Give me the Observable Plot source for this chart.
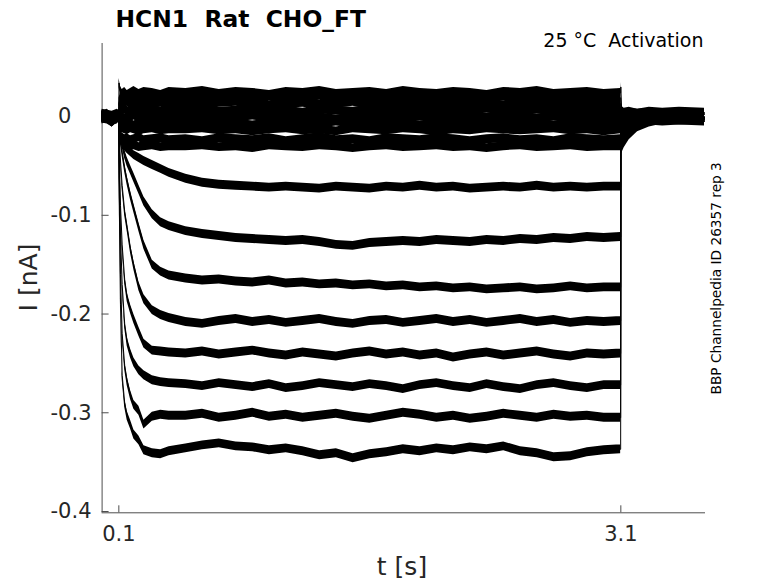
<!DOCTYPE html>
<html><head><meta charset="utf-8">
<script src="https://cdn.jsdelivr.net/npm/d3@7"></script>
<script src="https://cdn.jsdelivr.net/npm/@observablehq/plot@0.6"></script>
<style>body{margin:0;background:#fff}</style>
</head><body><div id="chart"></div>
<script>
// time grid (s)
const timeS = [0, 0.03, 0.06, 0.09, 0.1,
  0.101, 0.11, 0.12, 0.135, 0.15, 0.17, 0.19, 0.22, 0.25, 0.3, 0.35, 0.4,
  0.5, 0.6, 0.7, 0.8, 0.9, 1.0, 1.1, 1.2, 1.3, 1.4, 1.5, 1.6, 1.7,
  1.8, 1.9, 2.0, 2.1, 2.2, 2.3, 2.4, 2.5, 2.6, 2.7, 2.8, 2.9, 3.0,
  3.099,
  3.1, 3.105, 3.12, 3.15, 3.2, 3.27, 3.35, 3.45, 3.6];

// current (nA) of each sweep
const sweep01 = [0.003, 0.002, 0.001, 0.003, 0.002,
  0.034, 0.026, 0.023, 0.025, 0.022, 0.024, 0.026, 0.023, 0.025, 0.024, 0.022, 0.025,
  0.024, 0.026, 0.023, 0.025, 0.024, 0.022, 0.025, 0.024, 0.026, 0.023, 0.024, 0.025, 0.023,
  0.026, 0.024, 0.023, 0.025, 0.024, 0.022, 0.025, 0.024, 0.026, 0.023, 0.024, 0.025, 0.023,
  0.024,
  0.030, 0.006, 0.004, 0.005, 0.003, 0.005, 0.004, 0.005, 0.004];
const sweep02 = [0.001, 0.003, -0.001, 0.002, 0.001,
  0.014, 0.020, 0.018, 0.019, 0.021, 0.018, 0.019, 0.020, 0.017, 0.019, 0.020, 0.018,
  0.019, 0.018, 0.020, 0.019, 0.017, 0.020, 0.018, 0.019, 0.021, 0.018, 0.019, 0.017, 0.020,
  0.019, 0.018, 0.020, 0.019, 0.017, 0.019, 0.020, 0.018, 0.019, 0.020, 0.018, 0.019, 0.020,
  0.019,
  0.005, 0.004, 0.003, 0.004, 0.003, 0.004, 0.003, 0.004, 0.003];
const sweep03 = [-0.001, 0.001, -0.003, 0.000, 0.001,
  0.008, 0.014, 0.012, 0.013, 0.015, 0.012, 0.014, 0.013, 0.011, 0.013, 0.014, 0.012,
  0.013, 0.012, 0.014, 0.015, 0.013, 0.011, 0.013, 0.014, 0.012, 0.013, 0.015, 0.012, 0.013,
  0.011, 0.014, 0.013, 0.012, 0.014, 0.013, 0.011, 0.013, 0.015, 0.012, 0.013, 0.014, 0.012,
  0.013,
  0.003, 0.002, 0.002, 0.003, 0.002, 0.002, 0.001, 0.002, 0.002];
const sweep04 = [0.000, -0.001, -0.004, -0.001, 0.000,
  0.002, 0.006, 0.005, 0.007, 0.006, 0.004, 0.007, 0.006, 0.005, 0.007, 0.005, 0.006,
  0.006, 0.007, 0.005, 0.006, 0.008, 0.005, 0.006, 0.004, 0.007, 0.006, 0.005, 0.007, 0.006,
  0.004, 0.006, 0.007, 0.005, 0.006, 0.008, 0.006, 0.005, 0.007, 0.006, 0.005, 0.006, 0.007,
  0.006,
  0.001, 0.001, 0.000, 0.001, 0.001, 0.000, 0.000, 0.001, 0.000];
const sweep05 = [-0.002, 0.000, -0.005, -0.002, -0.001,
  -0.003, 0.000, -0.001, -0.002, 0.000, -0.001, 0.001, -0.001, -0.002, 0.000, -0.001, -0.002,
  -0.001, 0.000, -0.002, -0.001, 0.001, -0.001, -0.002, 0.000, -0.001, -0.003, -0.001, 0.000, -0.002,
  -0.001, 0.000, -0.001, -0.002, 0.000, -0.001, 0.001, -0.001, -0.002, 0.000, -0.001, -0.002, -0.001,
  -0.001,
  -0.002, -0.001, -0.002, -0.001, -0.002, -0.001, -0.002, -0.001, -0.001];
const sweep06 = [-0.001, -0.002, -0.006, 0.000, -0.002,
  -0.005, -0.006, -0.007, -0.008, -0.006, -0.007, -0.009, -0.007, -0.006, -0.008, -0.007, -0.006,
  -0.007, -0.008, -0.006, -0.007, -0.009, -0.007, -0.006, -0.008, -0.007, -0.005, -0.007, -0.008, -0.006,
  -0.007, -0.009, -0.007, -0.006, -0.008, -0.007, -0.006, -0.008, -0.007, -0.009, -0.007, -0.006, -0.007,
  -0.007,
  -0.004, -0.003, -0.003, -0.002, -0.003, -0.002, -0.003, -0.002, -0.003];
const sweep07 = [-0.003, -0.001, -0.004, -0.003, -0.001,
  -0.007, -0.011, -0.012, -0.013, -0.014, -0.012, -0.013, -0.015, -0.013, -0.012, -0.014, -0.013,
  -0.013, -0.012, -0.014, -0.013, -0.015, -0.013, -0.012, -0.014, -0.013, -0.015, -0.012, -0.013, -0.014,
  -0.012, -0.013, -0.015, -0.013, -0.014, -0.012, -0.013, -0.014, -0.013, -0.012, -0.014, -0.013, -0.015,
  -0.013,
  -0.006, -0.005, -0.004, -0.004, -0.003, -0.004, -0.003, -0.004, -0.003];
const sweep08 = [0.002, 0.000, -0.002, 0.001, 0.000,
  -0.010, -0.018, -0.021, -0.023, -0.022, -0.024, -0.023, -0.021, -0.024, -0.023, -0.022, -0.024,
  -0.023, -0.025, -0.022, -0.023, -0.024, -0.022, -0.025, -0.023, -0.021, -0.024, -0.023, -0.025, -0.022,
  -0.023, -0.024, -0.022, -0.023, -0.025, -0.023, -0.022, -0.024, -0.023, -0.025, -0.022, -0.023, -0.024,
  -0.023,
  -0.008, -0.006, -0.005, -0.004, -0.004, -0.003, -0.004, -0.003, -0.004];
const sweep09 = [-0.002, -0.003, -0.006, -0.002, -0.001,
  -0.012, -0.021, -0.026, -0.028, -0.029, -0.030, -0.029, -0.031, -0.030, -0.029, -0.031, -0.030,
  -0.030, -0.029, -0.031, -0.030, -0.032, -0.029, -0.030, -0.031, -0.029, -0.030, -0.032, -0.030, -0.029,
  -0.031, -0.030, -0.029, -0.031, -0.030, -0.032, -0.030, -0.029, -0.031, -0.030, -0.029, -0.031, -0.030,
  -0.030,
  -0.010, -0.008, -0.006, -0.005, -0.004, -0.004, -0.005, -0.004, -0.005];
const sweep10 = [0.000, 0.001, -0.003, -0.001, 0.000,
  -0.010, -0.020, -0.025, -0.030, -0.033, -0.036, -0.039, -0.042, -0.045, -0.049, -0.053, -0.057,
  -0.063, -0.067, -0.069, -0.070, -0.071, -0.072, -0.071, -0.072, -0.073, -0.071, -0.072, -0.073, -0.071,
  -0.072, -0.070, -0.072, -0.071, -0.073, -0.072, -0.071, -0.072, -0.070, -0.072, -0.071, -0.072, -0.071,
  -0.071,
  -0.012, -0.010, -0.008, -0.006, -0.004, -0.003, -0.002, -0.002, -0.002];
const sweep11 = [-0.001, -0.002, -0.005, 0.001, -0.001,
  -0.008, -0.018, -0.027, -0.038, -0.046, -0.054, -0.062, -0.074, -0.086, -0.099, -0.107, -0.111,
  -0.116, -0.119, -0.121, -0.123, -0.124, -0.125, -0.126, -0.125, -0.127, -0.130, -0.131, -0.128, -0.127,
  -0.126, -0.127, -0.125, -0.126, -0.127, -0.125, -0.126, -0.124, -0.125, -0.123, -0.124, -0.122, -0.123,
  -0.122,
  -0.017, -0.015, -0.012, -0.008, -0.005, -0.003, -0.002, -0.001, -0.002];
const sweep12 = [0.001, -0.001, -0.002, 0.000, 0.001,
  -0.012, -0.024, -0.036, -0.052, -0.065, -0.080, -0.093, -0.112, -0.130, -0.150, -0.157, -0.161,
  -0.164, -0.166, -0.165, -0.167, -0.168, -0.166, -0.169, -0.168, -0.170, -0.169, -0.171, -0.170, -0.172,
  -0.171, -0.173, -0.172, -0.174, -0.173, -0.175, -0.174, -0.173, -0.175, -0.174, -0.172, -0.174, -0.173,
  -0.173,
  -0.022, -0.019, -0.015, -0.010, -0.006, -0.003, -0.002, -0.001, -0.001];
const sweep13 = [-0.002, 0.000, -0.004, -0.002, 0.000,
  -0.018, -0.045, -0.070, -0.096, -0.112, -0.134, -0.151, -0.172, -0.185, -0.196, -0.201, -0.204,
  -0.208, -0.210, -0.207, -0.205, -0.208, -0.206, -0.209, -0.207, -0.205, -0.208, -0.210, -0.207, -0.206,
  -0.209, -0.207, -0.205, -0.208, -0.206, -0.209, -0.207, -0.205, -0.208, -0.206, -0.209, -0.207, -0.208,
  -0.207,
  -0.026, -0.023, -0.018, -0.012, -0.007, -0.004, -0.002, -0.002, -0.001];
const sweep14 = [0.000, -0.002, -0.006, -0.001, -0.002,
  -0.030, -0.090, -0.130, -0.165, -0.183, -0.195, -0.205, -0.218, -0.230, -0.237, -0.238, -0.239,
  -0.240, -0.238, -0.241, -0.239, -0.237, -0.240, -0.242, -0.239, -0.241, -0.243, -0.240, -0.238, -0.241,
  -0.239, -0.242, -0.240, -0.244, -0.241, -0.239, -0.242, -0.240, -0.238, -0.241, -0.243, -0.240, -0.241,
  -0.240,
  -0.029, -0.026, -0.021, -0.014, -0.008, -0.004, -0.002, -0.001, -0.002];
const sweep15 = [0.002, 0.001, -0.001, 0.002, 0.000,
  -0.040, -0.120, -0.170, -0.210, -0.228, -0.240, -0.249, -0.257, -0.262, -0.267, -0.269, -0.270,
  -0.271, -0.273, -0.270, -0.272, -0.274, -0.271, -0.275, -0.273, -0.270, -0.272, -0.274, -0.271, -0.273,
  -0.276, -0.272, -0.270, -0.273, -0.275, -0.271, -0.274, -0.276, -0.272, -0.270, -0.273, -0.275, -0.272,
  -0.272,
  -0.032, -0.029, -0.023, -0.016, -0.009, -0.005, -0.002, -0.002, -0.001];
const sweep16 = [-0.001, 0.000, -0.003, -0.001, -0.001,
  -0.050, -0.160, -0.220, -0.252, -0.268, -0.282, -0.292, -0.298, -0.312, -0.304, -0.302, -0.303,
  -0.303, -0.301, -0.305, -0.303, -0.300, -0.304, -0.302, -0.305, -0.303, -0.301, -0.304, -0.306, -0.303,
  -0.300, -0.302, -0.305, -0.303, -0.306, -0.304, -0.301, -0.303, -0.305, -0.302, -0.304, -0.303, -0.305,
  -0.305,
  -0.034, -0.031, -0.025, -0.017, -0.010, -0.005, -0.003, -0.001, -0.002];
const sweep17 = [0.001, -0.001, -0.004, 0.000, 0.000,
  -0.060, -0.190, -0.262, -0.290, -0.303, -0.312, -0.322, -0.328, -0.338, -0.341, -0.342, -0.339,
  -0.336, -0.333, -0.331, -0.334, -0.335, -0.338, -0.336, -0.339, -0.343, -0.341, -0.346, -0.342, -0.340,
  -0.337, -0.339, -0.336, -0.338, -0.335, -0.337, -0.334, -0.339, -0.341, -0.345, -0.344, -0.340, -0.338,
  -0.337,
  -0.036, -0.033, -0.027, -0.019, -0.011, -0.006, -0.003, -0.002, -0.001];

const sweeps = [sweep01, sweep02, sweep03, sweep04, sweep05, sweep06, sweep07, sweep08, sweep09,
  sweep10, sweep11, sweep12, sweep13, sweep14, sweep15, sweep16, sweep17];

const xTicks = [0.1, 3.1];
const yTicks = [0, -0.1, -0.2, -0.3, -0.4];
const xDomain = [0, 3.606];
const yDomain = [-0.4013, 0.074];
const noiseHalf = 0.0045; // half height of the recording noise band (nA)

const titleText = "HCN1  Rat  CHO_FT";
const conditionText = "25 \u00B0C  Activation";
const sourceText = "BBP Channelpedia ID 26357 rep 3";
const xLabel = "t [s]";
const yLabel = "I [nA]";

sweeps.forEach((s, i) => { if (s.length !== timeS.length) throw new Error("sweep " + (i + 1) + " has " + s.length); });
const rows = sweeps.flatMap((s, k) => s.map((v, j) => ({sweep: k, t: timeS[j], I: v})));

const W = 778, H = 583, mL = 101.6, mR = 73, mT = 43, mB = 70.7;
const axisColor = "#4d4d4d";
const plot = Plot.plot({
  width: W, height: H,
  marginLeft: mL, marginRight: mR, marginTop: mT, marginBottom: mB,
  x: {domain: xDomain},
  y: {domain: yDomain},
  style: {fontFamily: "DejaVu Sans", fontSize: "21px", color: "#262626", background: "#fff"},
  marks: [
    Plot.ruleX([xDomain[0]], {stroke: axisColor, strokeWidth: 1}),
    Plot.ruleY([yDomain[0]], {stroke: axisColor, strokeWidth: 1}),
    Plot.tickY(yTicks, {y: d => d, stroke: axisColor, insetRight: W - mL - mR - 7}),
    Plot.tickX(xTicks, {x: d => d, stroke: axisColor, insetTop: H - mT - mB - 7}),
    Plot.axisX({ticks: xTicks, tickSize: 0, tickPadding: 13, label: null, fontSize: 21,
      tickFormat: d => d.toFixed(1)}),
    Plot.axisY({ticks: yTicks, tickSize: 0, tickPadding: 10.6, label: null, fontSize: 21,
      tickFormat: d => d === 0 ? "0\u2008\u2007" : d.toFixed(1)}),
    Plot.areaY(rows, {x: "t", y1: d => d.I - noiseHalf, y2: d => d.I + noiseHalf, z: "sweep", fill: "#000"}),
    Plot.line(rows, {x: "t", y: "I", z: "sweep", stroke: "#000", strokeWidth: 1})
  ]
});
document.getElementById("chart").appendChild(plot);

const svg = d3.select(plot);
function addText(str, x, y, size, opts = {}) {
  const t = svg.append("text")
    .attr("x", x).attr("y", y)
    .attr("font-size", size)
    .attr("font-family", "DejaVu Sans")
    .attr("fill", opts.fill || "#262626")
    .attr("text-anchor", opts.anchor || "start")
    .attr("xml:space", "preserve")
    .style("white-space", "pre")
    .text(str);
  if (opts.weight) t.attr("font-weight", opts.weight);
  if (opts.rotate) t.attr("transform", `rotate(${opts.rotate} ${x} ${y})`);
  return t;
}
addText(titleText, 115.5, 26.5, 23.4, {weight: "bold", fill: "#000"});
addText(conditionText, 703.5, 47.3, 19, {anchor: "end", fill: "#000"});
addText(xLabel, 402, 574.5, 25, {anchor: "middle"});
addText(yLabel, 36.5, 277.5, 25, {anchor: "middle", rotate: -90});
addText(sourceText, 721.5, 278.3, 13.7, {anchor: "middle", fill: "#000", rotate: -90});
</script>
</body></html>
